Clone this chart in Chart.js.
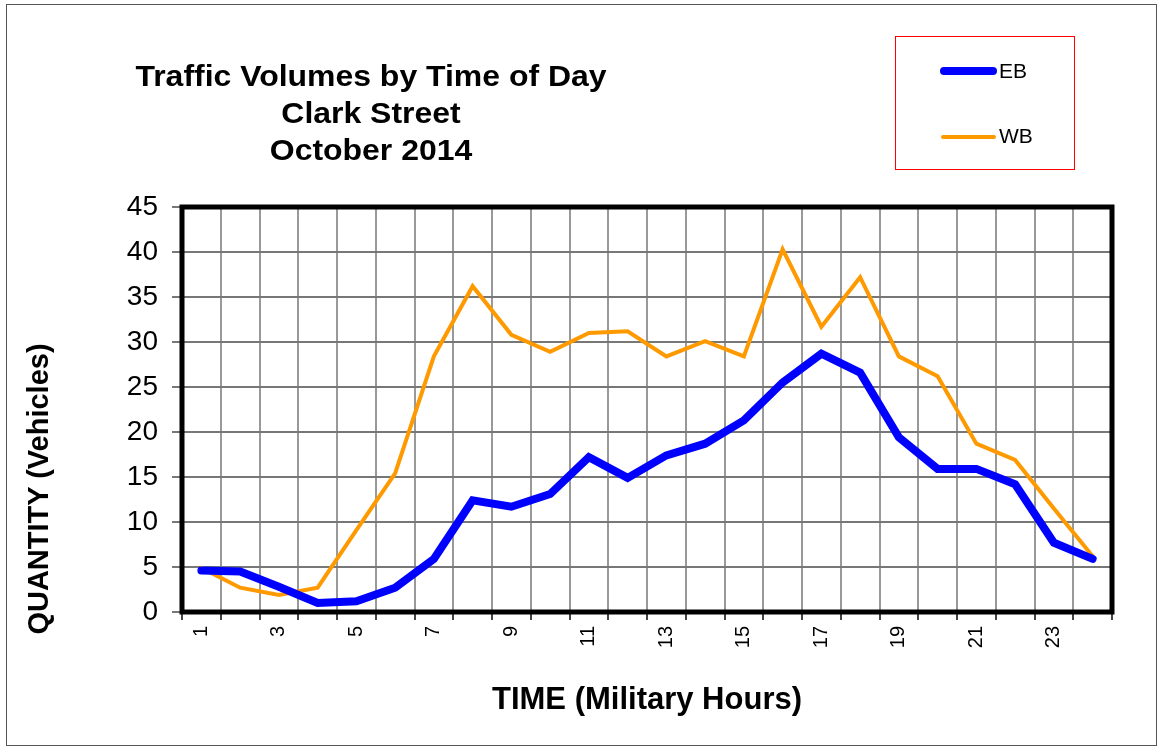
<!DOCTYPE html>
<html>
<head>
<meta charset="utf-8">
<script src="https://cdn.jsdelivr.net/npm/chart.js@4.4.0/dist/chart.umd.min.js"></script>
<style>
    html, body { margin: 0; padding: 0; background: #fff; }
    body { width: 1159px; height: 749px; position: relative; overflow: hidden; font-family: "Liberation Sans", Arial, sans-serif; }
    #frame { position: absolute; left: 6px; top: 4px; width: 1151px; height: 742px; border: 1px solid #555; box-sizing: border-box; }
    #wrap { position: absolute; left: 0; top: 0; width: 1159px; height: 749px; }
    #titulo { position: absolute; left: 71px; width: 600px; top: 57px; text-align: center; font-weight: bold; font-size: 30px; line-height: 37px; color: #000; transform: scaleX(1.065); }
    #tituloY { position: absolute; left: 38px; top: 489px; width: 400px; height: 34px; margin-left: -200px; margin-top: -17px; text-align: center; font-weight: bold; font-size: 29px; line-height: 34px; color: #000; transform: rotate(-90deg); white-space: nowrap; }
    #legenda { position: absolute; left: 895px; top: 36px; width: 180px; height: 134px; border: 1px solid #f00; box-sizing: border-box; }
    .item { position: absolute; left: 44px; height: 22px; font-size: 21px; line-height: 22px; color: #000; }
    .item span.amostra { position: absolute; left: 0; width: 57px; border-radius: 4px; }
    .item span.txt { position: absolute; left: 59px; top: 0; }
</style>
</head>
<body>
<div id="frame"></div>
<div id="wrap"><canvas id="traficoChart" width="1159" height="749"></canvas></div>
<div id="titulo">Traffic Volumes by Time of Day<br>Clark Street<br>October 2014</div>
<div id="tituloY">QUANTITY (Vehicles)</div>
<div id="legenda">
    <div class="item" style="top:23px"><span class="amostra" style="top:7px;height:8px;background:#0000ff"></span><span class="txt">EB</span></div>
    <div class="item" style="top:88px"><span class="amostra" style="top:10px;height:4px;background:#ff9900;left:1px;width:55px"></span><span class="txt">WB</span></div>
</div>
<script>
const horas = ['1','2','3','4','5','6','7','8','9','10','11','12','13','14','15','16','17','18','19','20','21','22','23','24'];
const volumeEB = [4.6, 4.5, 2.8, 1.0, 1.2, 2.7, 5.9, 12.4, 11.7, 13.1, 17.2, 14.9, 17.4, 18.7, 21.3, 25.5, 28.7, 26.6, 19.4, 15.9, 15.9, 14.2, 7.7, 5.9];
const volumeWB = [4.9, 2.7, 1.9, 2.7, 9.1, 15.4, 28.4, 36.2, 30.8, 28.9, 31.0, 31.2, 28.4, 30.1, 28.4, 40.3, 31.7, 37.2, 28.4, 26.2, 18.7, 16.9, 11.5, 6.2];
const ticksY = [0, 5, 10, 15, 20, 25, 30, 35, 40, 45];

// moldura preta grossa em volta da area do grafico
const moldura = {
    id: 'moldura',
    afterDraw(chart) {
        const { ctx, chartArea: a } = chart;
        ctx.save();
        ctx.strokeStyle = '#000';
        ctx.lineWidth = 5;
        ctx.strokeRect(a.left, a.top, a.right - a.left, a.bottom - a.top);
        ctx.restore();
    }
};

const ctx = document.getElementById('traficoChart').getContext('2d');
new Chart(ctx, {
    type: 'line',
    data: {
        labels: horas,
        datasets: [
            {
                label: 'EB',
                data: volumeEB,
                borderColor: '#0000ff',
                borderWidth: 8,
                borderCapStyle: 'round',
                pointRadius: 0,
                tension: 0
            },
            {
                label: 'WB',
                data: volumeWB,
                borderColor: '#ff9900',
                borderWidth: 4,
                borderCapStyle: 'round',
                pointRadius: 0,
                tension: 0
            }
        ]
    },
    options: {
        responsive: false,
        animation: false,
        layout: { padding: { top: 207, right: 47, left: 14, bottom: 20 } },
        plugins: { legend: { display: false }, tooltip: { enabled: false } },
        scales: {
            x: {
                offset: true,
                grid: { offset: true, color: '#999', lineWidth: 2, tickLength: 8, tickColor: '#444' },
                border: { display: false },
                ticks: {
                    autoSkip: false,
                    maxRotation: 90,
                    minRotation: 90,
                    padding: 6,
                    color: '#000',
                    font: { family: '"Liberation Sans", Arial', size: 20 },
                    callback: (v, i) => (i % 2 === 0 ? horas[i] : '')
                },
                title: {
                    display: true,
                    text: 'TIME (Military Hours)',
                    color: '#000',
                    font: { family: '"Liberation Sans", Arial', size: 31, weight: 'bold' },
                    padding: { top: 0, bottom: 10 }
                },
                afterFit: s => { s.height = 749 - 612 - 20; }
            },
            y: {
                min: 0,
                max: 45,
                afterBuildTicks: s => { s.ticks = ticksY.map(v => ({ value: v })); },
                grid: { color: '#777', lineWidth: 2, tickLength: 10, tickColor: '#777' },
                border: { display: false },
                ticks: {
                    padding: 14,
                    color: '#000',
                    font: { family: '"Liberation Sans", Arial', size: 28 }
                },
                afterFit: s => { s.width = 182 - 14; }
            }
        }
    },
    plugins: [moldura]
});
</script>
</body>
</html>
